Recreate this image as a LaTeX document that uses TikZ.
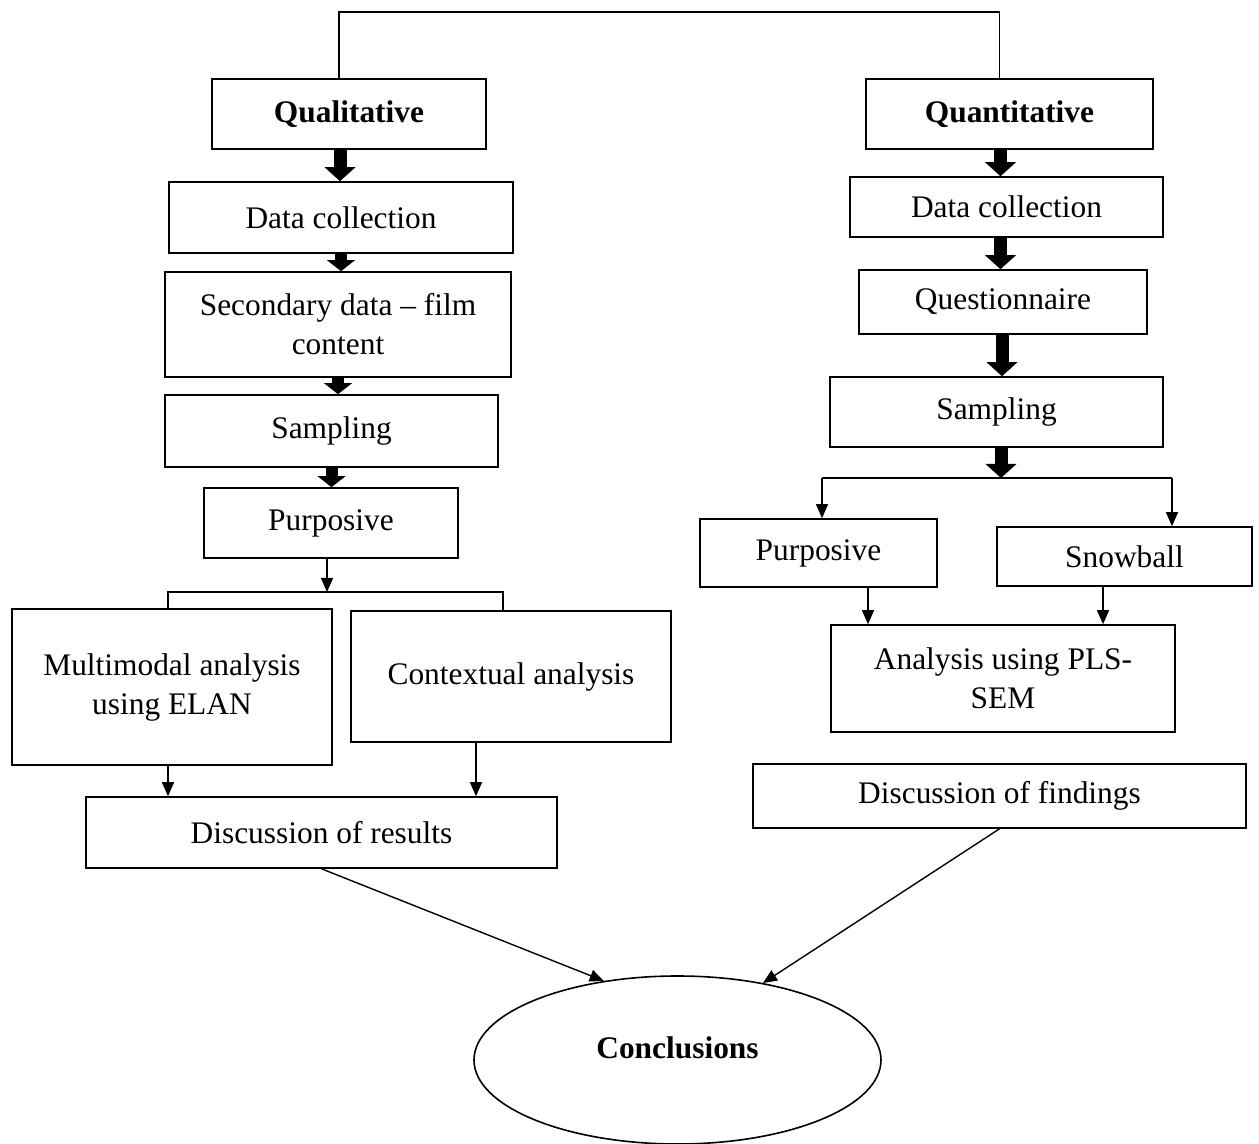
\documentclass[tikz,border=0pt]{standalone}
\usepackage{fontspec}
\setmainfont{Liberation Serif}
\usetikzlibrary{arrows.meta,positioning,calc,shapes.geometric}

\begin{document}
\begin{tikzpicture}[
  x=0.5pt, y=-0.5pt,
  font=\fontsize{15.7}{19.5}\selectfont,
  box/.style={draw, line width=0.8pt, inner sep=0pt, align=center},
  link/.style={line width=0.7pt},
  arr/.style={-{Triangle[length=7pt, width=6pt]}, line width=0.7pt},
  bigarr/.style={-{Triangle[length=7pt, width=15.5pt, line width=0pt]}, line width=6.5pt},
  smallarr/.style={-{Triangle[length=5.5pt, width=14pt, line width=0pt]}, line width=6pt}
]
\useasboundingbox (0,0) rectangle (1259,1144);

% ---- Qualitative strand (left) ----
\node[box, minimum width=137pt, minimum height=35pt] (qlhead) at (349,114) {\textbf{Qualitative}};
\node[box, minimum width=172pt, minimum height=35.5pt] (qldata) at (341,217.5) {Data collection};
\node[box, minimum width=173pt, minimum height=52.5pt] (qlsec) at (338,324.5) {Secondary data -- film\\content};
\node[box, minimum width=166.5pt, minimum height=36pt] (qlsamp) at (331.5,431) {Sampling};
\node[box, minimum width=127pt, minimum height=35pt] (qlpurp) at (331,523) {Purposive};
\node[box, minimum width=160pt, minimum height=78pt] (qlmm) at (172,687) {Multimodal analysis\\using ELAN};
\node[box, minimum width=160pt, minimum height=65.5pt] (qlctx) at (511,676.5) {Contextual analysis};
\node[box, minimum width=235.5pt, minimum height=35.5pt] (qlres) at (321.5,832.5) {Discussion of results};

\draw[bigarr] ([xshift=-4.5pt]qlhead.south) -- ([xshift=-4.5pt]qlhead.south |- qldata.north);
\foreach \a/\b in {qldata/qlsec, qlsec/qlsamp, qlsamp/qlpurp}
  {\draw[smallarr] (\a.south) -- (\a.south |- \b.north);}

% split to the two analyses
\coordinate (qlL) at (168,592);
\coordinate (qlR) at (503,592);
\draw[arr] ([xshift=-2pt]qlpurp.south) -- ([xshift=-2pt]qlpurp.south |- qlL);
\draw[link] (qlL |- qlmm.north) -- (qlL) -- (qlR) -- (qlR |- qlctx.north);
\draw[arr] (qlL |- qlmm.south) -- (qlL |- qlres.north);
\draw[arr] ([xshift=-17.5pt]qlctx.south) -- ([xshift=-17.5pt]qlctx.south |- qlres.north);

% ---- Quantitative strand (right) ----
\node[box, minimum width=143.5pt, minimum height=35pt] (qnhead) at (1009.5,114) {\textbf{Quantitative}};
\node[box, minimum width=156.5pt, minimum height=30pt] (qndata) at (1006.5,207) {Data collection};
\node[box, minimum width=144pt, minimum height=32pt] (qnquest) at (1003,302) {Questionnaire};
\node[box, minimum width=166.5pt, minimum height=35pt] (qnsamp) at (996.5,412) {Sampling};
\node[box, minimum width=118.5pt, minimum height=34pt] (qnpurp) at (818.5,553) {Purposive};
\node[box, minimum width=127.5pt, minimum height=29.5pt] (qnsnow) at (1124.5,556.5) {Snowball};
\node[box, minimum width=172pt, minimum height=53.5pt] (qnpls) at (1003,678.5) {Analysis using PLS-\\SEM};
\node[box, minimum width=246.5pt, minimum height=32pt] (qnres) at (999.5,796) {Discussion of findings};

\foreach \a/\b/\dx in {qnhead/qndata/-4.5, qndata/qnquest/-3, qnquest/qnsamp/-0.5}
  {\draw[bigarr] ([xshift=\dx pt]\a.south) -- ([xshift=\dx pt]\a.south |- \b.north);}

% split to the two sampling types
\coordinate (qnsplit) at (1001,478);
\coordinate (qnL) at (822,478);
\coordinate (qnR) at (1172,478);
\draw[bigarr] (qnsamp.south -| qnsplit) -- (qnsplit);
\draw[link] (qnL) -- (qnR);
\draw[arr] (qnL) -- (qnL |- qnpurp.north);
\draw[arr] (qnR) -- (qnR |- qnsnow.north);
\draw[arr] ([xshift=24.75pt]qnpurp.south) -- ([xshift=24.75pt]qnpurp.south |- qnpls.north);
\draw[arr] ([xshift=-10.75pt]qnsnow.south) -- ([xshift=-10.75pt]qnsnow.south |- qnpls.north);

% ---- Joining line over both strands ----
\draw[link] ([xshift=-5pt]qlhead.north) -- ++(0,-66) -| ([xshift=-5pt]qnhead.north);

% ---- Conclusions ----
\node[draw, ellipse, line width=0.8pt, inner sep=0pt, minimum width=203.5pt, minimum height=84pt] (concl) at (677.5,1060) {\raisebox{12pt}{\textbf{Conclusions}}};
\draw[arr] (qlres.south) -- (concl.133);
\draw[arr] (qnres.south) -- (concl.42);

\end{tikzpicture}
\end{document}
